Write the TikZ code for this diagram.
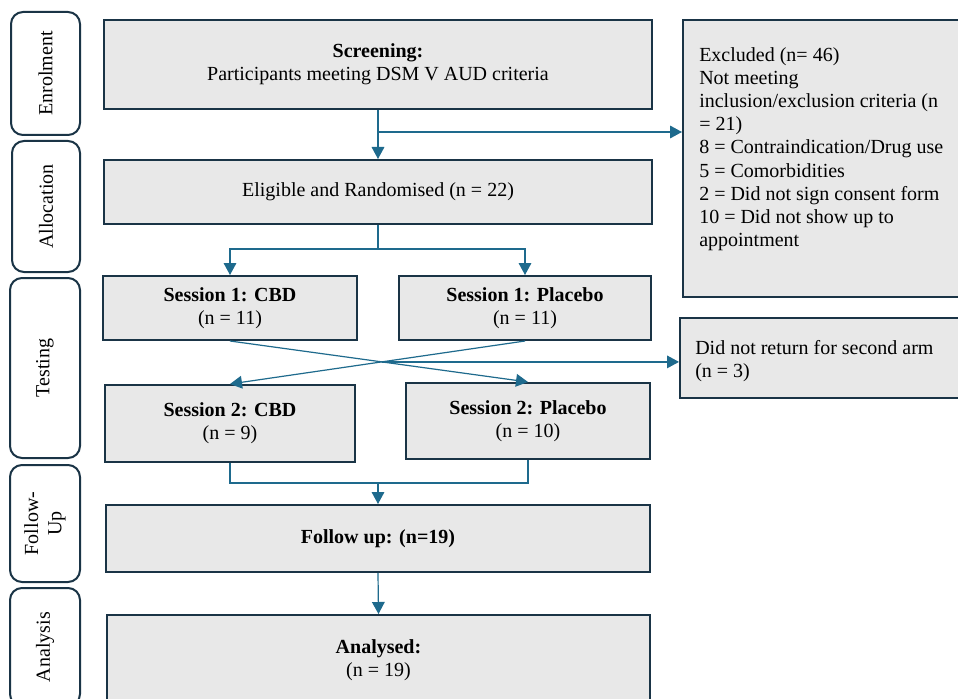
\documentclass[tikz,border=0pt]{standalone}
\usepackage{fontspec}
\setmainfont{Liberation Serif}
\usetikzlibrary{arrows.meta}
\definecolor{boxline}{HTML}{1A3446}
\definecolor{boxfill}{HTML}{E8E8E8}
\definecolor{conncol}{HTML}{1E6A8D}
\tikzset{
  basetext/.style={font=\fontsize{15}{17.4}\selectfont, inner sep=0pt},
  box/.style={basetext, draw=boxline, line width=1.5pt, fill=boxfill, align=center},
  side/.style={basetext, draw=boxline, line width=1.5pt, rounded corners=9pt, fill=white, align=center, rotate=90},
  conn/.style={draw=conncol, line width=0.9pt},
  arr/.style={conn, -{Triangle[width=9.5pt,length=9pt]}},
}
\begin{document}
\begin{tikzpicture}[x=0.75pt,y=-0.75pt]
\useasboundingbox (0,0) rectangle (958,699);
\clip (0,0) rectangle (958,699);
\fill[white] (0,0) rectangle (958,699);

% side labels
\node[side, minimum width=92.25pt, minimum height=51.75pt] (enrol) at (45.5,73.5) {Enrolment};
\node[side, minimum width=98.25pt, minimum height=51pt] (alloc) at (46,206.5) {Allocation};
\node[side, minimum width=135pt, minimum height=52.5pt] (test) at (45,368) {Testing};
\node[side, minimum width=87.75pt, minimum height=52.5pt] (follab) at (45,523.5) {Follow-\\Up};
\node[side, minimum width=88.5pt, minimum height=52.5pt] (analab) at (45,647) {Analysis};

% main boxes
\node[box, minimum width=411pt, minimum height=66.75pt] (screen) at (378,64.5) {\textbf{Screening:}\\Participants meeting DSM V AUD criteria};
\node[box, minimum width=411pt, minimum height=48pt] (elig) at (378,192) {Eligible and Randomised (n = 22)};
\node[box, minimum width=190.5pt, minimum height=48pt] (s1c) at (230,308) {\textbf{Session 1: CBD}\\(n = 11)};
\node[box, minimum width=189pt, minimum height=48pt] (s1p) at (525,308) {\textbf{Session 1: Placebo}\\(n = 11)};
\node[box, minimum width=187.5pt, minimum height=57.75pt] (s2c) at (230,423.5) {\textbf{Session 2: CBD}\\(n = 9)};
\node[box, minimum width=183pt, minimum height=57pt] (s2p) at (528,421) {\textbf{Session 2: Placebo}\\(n = 10)};
\node[box, minimum width=408pt, minimum height=50.25pt] (follow) at (378,538.5) {\textbf{Follow up: (n=19)}};
\node[box, minimum width=407.25pt, minimum height=67.5pt] (anal) at (378.5,660) {\textbf{Analysed:}\\(n = 19)};

% side boxes
\node[box, minimum width=237.75pt, minimum height=207.75pt] (excl) at (841.5,158.5) {};
\node[basetext, anchor=north west, align=left] (excltxt) at (699,47) {Excluded (n= 46)\\Not meeting\\inclusion/exclusion criteria (n\\= 21)\\8 = Contraindication/Drug use\\5 = Comorbidities\\2 = Did not sign consent form\\10 = Did not show up to\\appointment};
\node[box, minimum width=240pt, minimum height=60pt] (dnr) at (840,358) {};
\node[basetext, anchor=north west, align=left] (dnrtxt) at (695,340) {Did not return for second arm\\(n = 3)};

% connectors
\draw[arr] (screen.south) -- (elig.north);
\coordinate (b1) at (378,132);
\draw[arr] (b1) -- (b1 -| excl.west);

\coordinate (b2) at (378,249);
\draw[conn] (elig.south) -- (b2);
\draw[arr] (b2) -| (s1c.north);
\draw[arr] (b2) -| (s1p.north);

\draw[arr] (s1c.south) -- (s2p.north);
\draw[arr] (s1p.south) -- (s2c.north);
\coordinate (x1) at (intersection of s1c.south--s2p.north and s1p.south--s2c.north);
\draw[arr] (x1) -- (x1 -| dnr.west);

\coordinate (b3) at (378,483);
\draw[conn] (s2c.south) |- (b3) -| (s2p.south);
\draw[arr] (b3) -- (follow.north);
\draw[arr] (follow.south) -- (anal.north);
\end{tikzpicture}
\end{document}
